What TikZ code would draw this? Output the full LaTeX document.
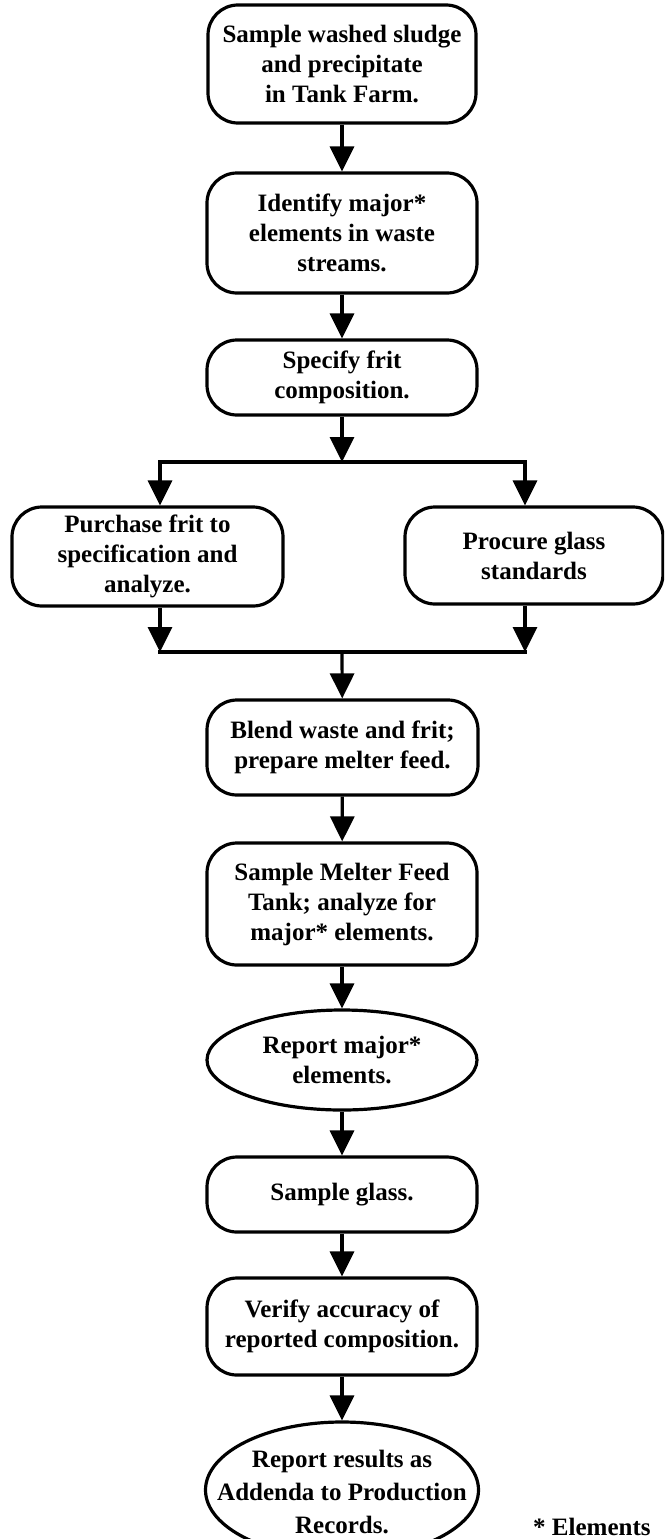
\documentclass[tikz,border=0pt]{standalone}
\usepackage{fontspec}
\setmainfont{Liberation Serif}
\usetikzlibrary{arrows.meta,shapes.geometric}
\newcommand{\boxfont}{\fontsize{25}{30}\selectfont\bfseries}
\begin{document}
\begin{tikzpicture}[x=1pt,y=-1pt,
  stepbox/.style={draw, line width=3.2pt, rounded corners=30pt, minimum width=270pt,
    inner sep=0pt, align=center, font=\boxfont},
  ovalbox/.style={draw, ellipse, line width=3.2pt, inner sep=0pt},
  ovaltext/.style={align=center, inner sep=0pt, font=\boxfont},
  conn/.style={line width=3.2pt, -{Triangle[length=25pt,width=24pt]}},
  plainline/.style={line width=3.2pt, line cap=rect}]
\useasboundingbox (0,0) rectangle (664,1539);
\clip (0,0) rectangle (664,1539);

% main column of steps
\node[stepbox, minimum width=268pt, minimum height=118pt] (b1) at (342,64)
  {Sample washed sludge\\and precipitate\\in Tank Farm.};
\node[stepbox, minimum height=120pt] (b2) at (342,233)
  {Identify major*\\elements in waste\\streams.};
\node[stepbox, minimum height=75pt] (b3) at (342,377.5)
  {Specify frit\\composition.};

% the two parallel steps
\node[stepbox, minimum width=271pt, minimum height=99pt] (pur) at (147.5,556.5)
  {Purchase frit to\\specification and\\analyze.};
\node[stepbox, minimum width=258pt, minimum height=97pt] (pro) at (534,555.5)
  {Procure glass\\standards};

\node[stepbox, minimum width=271pt, minimum height=95pt] (blend) at (342.5,747.5)
  {Blend waste and frit;\\prepare melter feed.};
\node[stepbox, minimum height=122pt] (mft) at (342,904)
  {Sample Melter Feed\\Tank; analyze for\\major* elements.};
\node[ovalbox, minimum width=270pt, minimum height=100pt] (rep1) at (342,1060) {};
\node[ovaltext] (rep1t) at (rep1.center) {Report major*\\elements.};
\node[stepbox, minimum height=75pt] (glass) at (342,1194.5) {Sample glass.};
\node[stepbox, minimum height=97pt] (ver) at (342,1326.5)
  {Verify accuracy of\\reported composition.};
\node[ovalbox, minimum width=273pt, minimum height=136pt] (rep2) at (342,1490) {};
\node[ovaltext, font=\fontsize{25}{33}\selectfont\bfseries] (rep2t) at (342,1492)
  {Report results as\\Addenda to Production\\Records.};

\node[anchor=base west, inner sep=0pt, font=\boxfont] (note) at (533,1535) {* Elements};

% split and join points
\coordinate (split) at (342,462);
\coordinate (splitL) at (160,462);
\coordinate (splitR) at (525,462);
\coordinate (join) at (342,652);
\coordinate (joinL) at (160,652);
\coordinate (joinR) at (525,652);

% connectors
\draw[conn] (b1) -- (b2);
\draw[conn] (b2) -- (b3);
\draw[conn] (b3) -- (split);
\draw[plainline] (splitL) -- (splitR);
\draw[conn] (splitL) -- (splitL |- pur.north);
\draw[conn] (splitR) -- (splitR |- pro.north);
\draw[conn] (splitL |- pur.south) -- (joinL);
\draw[conn] (splitR |- pro.south) -- (joinR);
\draw[plainline] (joinL) -- (joinR);
\draw[conn] (join) -- (blend);
\draw[conn] (blend) -- (mft);
\draw[conn] (mft) -- (rep1);
\draw[conn] (rep1) -- (glass);
\draw[conn] (glass) -- (ver);
\draw[conn] (ver) -- (rep2);
\end{tikzpicture}
\end{document}
